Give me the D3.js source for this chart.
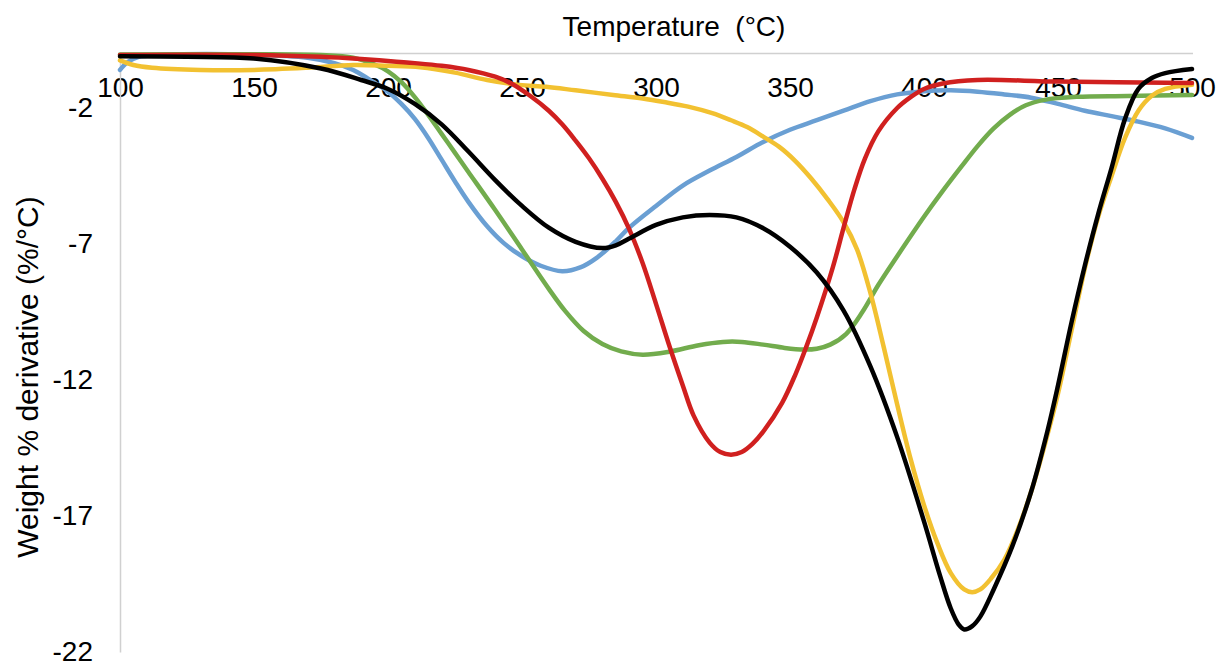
<!DOCTYPE html>
<html>
<head>
<meta charset="utf-8">
<script src="https://cdn.jsdelivr.net/npm/d3@7"></script>
<style>
  body { margin: 0; background: #fff; }
  text { font-family: "Liberation Sans", Arial, sans-serif; fill: #000; }
</style>
</head>
<body>
<svg id="chart" width="1223" height="672"></svg>
<script>
// x ticks and y ticks
const xTicks = [100, 150, 200, 250, 300, 350, 400, 450, 500];
const yTicks = [-2, -7, -12, -17, -22];

// [temperature, weight % derivative]
const blue = [[100,-0.6],[103,-0.3],[107,-0.12],[115,-0.05],[150,-0.04],[170,-0.15],[180,-0.35],[187,-0.6],[193,-0.95],[200,-1.4],[205,-1.85],[210,-2.4],[215,-3.1],[220,-3.9],[225,-4.7],[230,-5.45],[237,-6.35],[243,-6.95],[250,-7.45],[257,-7.8],[265,-8.0],[272,-7.85],[278,-7.5],[285,-6.9],[290,-6.4],[300,-5.6],[310,-4.85],[320,-4.3],[330,-3.8],[340,-3.25],[350,-2.8],[360,-2.45],[370,-2.1],[380,-1.75],[390,-1.5],[400,-1.38],[410,-1.35],[420,-1.4],[430,-1.5],[440,-1.62],[450,-1.85],[460,-2.1],[470,-2.3],[480,-2.5],[490,-2.75],[500,-3.1]];

const green = [[100,-0.03],[150,-0.02],[175,-0.05],[187,-0.15],[195,-0.4],[200,-0.65],[205,-1.05],[210,-1.6],[215,-2.25],[220,-2.95],[225,-3.65],[230,-4.35],[240,-5.75],[250,-7.2],[260,-8.65],[266,-9.45],[273,-10.2],[280,-10.68],[287,-10.95],[295,-11.07],[305,-10.96],[316,-10.72],[325,-10.6],[332,-10.6],[340,-10.7],[348,-10.82],[355,-10.88],[360,-10.85],[365,-10.7],[371,-10.3],[377,-9.5],[383,-8.5],[390,-7.45],[400,-6.0],[407,-5.05],[414,-4.15],[420,-3.4],[426,-2.75],[432,-2.25],[438,-1.9],[445,-1.7],[457,-1.59],[476,-1.56],[500,-1.52]];

const yellow = [[100,-0.25],[105,-0.42],[112,-0.52],[130,-0.6],[150,-0.6],[170,-0.52],[187,-0.42],[200,-0.45],[212,-0.5],[225,-0.7],[237,-0.97],[249,-1.15],[259,-1.22],[270,-1.35],[284,-1.52],[295,-1.65],[303,-1.78],[312,-1.95],[321,-2.19],[328,-2.45],[334,-2.7],[340,-3.05],[346,-3.43],[352,-3.95],[358,-4.6],[364,-5.35],[370,-6.2],[375,-7.2],[380,-8.8],[385,-10.8],[390,-12.9],[395,-14.9],[400,-16.6],[405,-18.0],[410,-19.1],[415,-19.7],[418,-19.8],[421,-19.7],[425,-19.3],[430,-18.6],[435,-17.5],[440,-16.1],[445,-14.4],[450,-12.5],[455,-10.2],[460,-7.9],[465,-6.0],[470,-4.5],[475,-3.1],[480,-2.1],[485,-1.55],[490,-1.3],[500,-1.15]];

const red = [[100,-0.05],[150,-0.05],[175,-0.12],[190,-0.2],[200,-0.27],[210,-0.35],[220,-0.45],[230,-0.6],[240,-0.85],[246,-1.1],[253,-1.55],[260,-2.1],[265,-2.6],[270,-3.2],[275,-3.85],[280,-4.6],[285,-5.45],[290,-6.45],[295,-7.7],[300,-9.2],[305,-10.75],[310,-12.2],[314,-13.3],[320,-14.3],[324,-14.65],[328,-14.75],[332,-14.65],[336,-14.35],[340,-13.9],[347,-12.85],[352,-11.8],[356,-10.8],[360,-9.7],[366,-7.85],[370,-6.4],[374,-5.0],[378,-3.85],[383,-2.85],[390,-2.0],[395,-1.6],[400,-1.3],[407,-1.1],[420,-0.97],[450,-1.03],[500,-1.08]];

const black = [[100,-0.1],[125,-0.12],[150,-0.18],[175,-0.55],[190,-0.97],[200,-1.3],[210,-1.85],[220,-2.6],[230,-3.6],[240,-4.65],[250,-5.6],[260,-6.4],[270,-6.92],[280,-7.15],[285,-7.05],[290,-6.8],[300,-6.3],[310,-6.02],[320,-5.93],[330,-6.02],[340,-6.42],[350,-7.1],[360,-8.05],[370,-9.45],[380,-11.5],[390,-14.1],[400,-17.2],[406,-19.2],[410,-20.4],[413,-21.0],[415,-21.17],[418,-21.05],[421,-20.7],[426,-19.7],[433,-18.1],[440,-16.1],[446,-13.9],[450,-12.2],[455,-9.9],[460,-7.8],[465,-5.9],[470,-4.2],[475,-2.4],[480,-1.3],[485,-0.9],[490,-0.72],[500,-0.57]];

// drawing order: first is underneath
const seriesList = [
  { data: blue,   color: "#6a9fd3" },
  { data: green,  color: "#72ac4d" },
  { data: yellow, color: "#f2c131" },
  { data: red,    color: "#d0201f" },
  { data: black,  color: "#000000" }
];

const svg = d3.select("#chart");

const x = d3.scaleLinear().domain([100, 500]).range([120, 1192]);
const y = d3.scaleLinear().domain([0, -22]).range([53.6, 652]);

// x axis sits at the top (y = 0), labels below the line
const xAxis = svg.append("g")
  .attr("transform", `translate(0,${y(0)})`)
  .call(d3.axisBottom(x).tickValues(xTicks).tickSize(0).tickSizeOuter(0).tickPadding(24).tickFormat(d => String(d)));
xAxis.select(".domain").attr("stroke", "#d0d0d0").attr("stroke-width", 1.5)
  .attr("d", `M${x(100)},0H1193`);
xAxis.selectAll("text").style("font-size", "28px").attr("fill", "#000");

const yAxis = svg.append("g")
  .attr("transform", `translate(${x(100)},0)`)
  .call(d3.axisLeft(y).tickValues(yTicks).tickSize(0).tickSizeOuter(0).tickPadding(27).tickFormat(d => String(d)));
yAxis.select(".domain").attr("stroke", "#d0d0d0").attr("stroke-width", 1.5);
yAxis.selectAll("text").style("font-size", "28px").attr("fill", "#000");

// axis titles
svg.append("text")
  .attr("x", 674).attr("y", 36)
  .attr("text-anchor", "middle")
  .style("font-size", "28px")
  .style("white-space", "pre")
  .text("Temperature  (°C)");

svg.append("text")
  .attr("transform", "translate(38,377) rotate(-90)")
  .attr("text-anchor", "middle")
  .style("font-size", "30px")
  .text("Weight % derivative (%/°C)");

const line = d3.line()
  .x(d => x(d[0]))
  .y(d => y(d[1]))
  .curve(d3.curveCatmullRom.alpha(0.5));

svg.append("g").selectAll("path")
  .data(seriesList)
  .enter().append("path")
  .attr("d", d => line(d.data))
  .attr("fill", "none")
  .attr("stroke", d => d.color)
  .attr("stroke-width", 4.5)
  .attr("stroke-linejoin", "round")
  .attr("stroke-linecap", "round");
</script>
</body>
</html>
